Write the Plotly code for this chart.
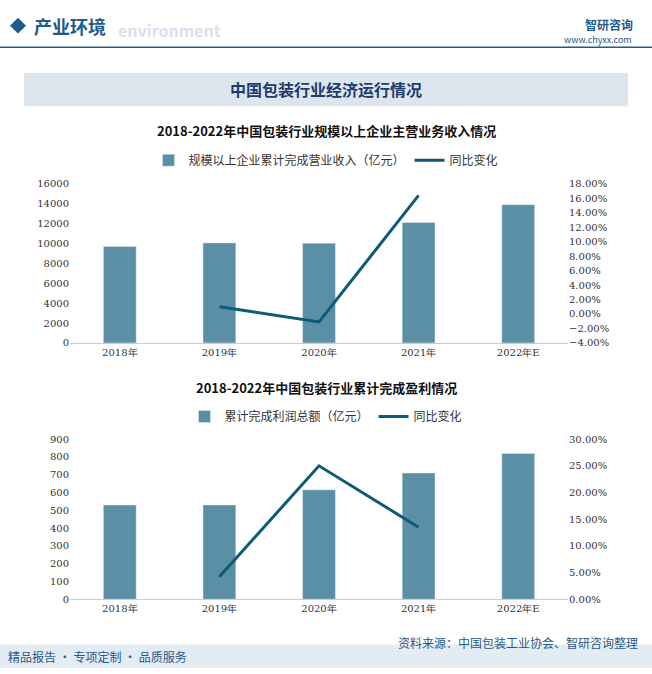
import plotly.graph_objects as go

years = ["2018年", "2019年", "2020年", "2021年", "2022年E"]
revenue = [9700, 10050, 10030, 12100, 13900]
rev_growth = [None, 1.0, -1.1, 16.4, None]
profit = [530, 530, 615, 710, 820]
profit_growth = [None, 4.2, 25.0, 13.5, None]

W, H = 652, 674
def py(p): return 1 - p / H
def px(p): return p / W

BAR = "#5b8fa6"
LINE = "#0d5a79"
FONT = "Noto Sans CJK SC"

fig = go.Figure()
fig.add_bar(x=years, y=revenue, name="规模以上企业累计完成营业收入（亿元）", marker_color=BAR,
            width=0.33, xaxis="x", yaxis="y", legend="legend")
fig.add_scatter(x=years, y=rev_growth, name="同比变化", mode="lines", line=dict(color=LINE, width=3),
                xaxis="x", yaxis="y2", legend="legend")
fig.add_bar(x=years, y=profit, name="累计完成利润总额（亿元）", marker_color=BAR,
            width=0.33, xaxis="x2", yaxis="y3", legend="legend2")
fig.add_scatter(x=years, y=profit_growth, name="同比变化", mode="lines", line=dict(color=LINE, width=3),
                xaxis="x2", yaxis="y4", legend="legend2")

tick = dict(size=10, color="#333", family="DejaVu Serif")
x0, x1 = px(70), px(568)
fig.update_layout(
    width=W, height=H, margin=dict(l=0, r=0, t=0, b=0),
    paper_bgcolor="white", plot_bgcolor="white", font=dict(family=FONT),
    xaxis=dict(domain=[x0, x1], anchor="y", tickfont=tick, showline=True, linecolor="#ccc", ticks=""),
    yaxis=dict(domain=[py(343), py(181)], range=[0, 16000], dtick=2000, tickformat="d", tickfont=tick, showgrid=False, zeroline=False),
    yaxis2=dict(overlaying="y", side="right", range=[-4, 18], dtick=2, tickformat=".2f", ticksuffix="%",
                tickfont=tick, showgrid=False, zeroline=False, anchor="x"),
    xaxis2=dict(domain=[x0, x1], anchor="y3", tickfont=tick, showline=True, linecolor="#ccc", ticks=""),
    yaxis3=dict(domain=[py(604), py(441)], range=[0, 900], dtick=100, tickfont=tick, showgrid=False, zeroline=False),
    yaxis4=dict(overlaying="y3", side="right", range=[0, 30], dtick=5, tickformat=".2f", ticksuffix="%",
                tickfont=tick, showgrid=False, zeroline=False, anchor="x2"),
    legend=dict(orientation="h", x=0.5, xanchor="center", y=py(157), yanchor="middle",
                font=dict(size=12, color="#333"), bgcolor="rgba(0,0,0,0)"),
    legend2=dict(orientation="h", x=0.5, xanchor="center", y=py(418), yanchor="middle",
                 font=dict(size=12, color="#333"), bgcolor="rgba(0,0,0,0)"),
    showlegend=True,
)

shapes = [
    dict(type="line", xref="paper", yref="paper", x0=0, x1=1, y0=py(42), y1=py(42), line=dict(color="#1e5a8a", width=1.5)),
    dict(type="rect", xref="paper", yref="paper", x0=px(24), x1=px(628), y0=py(102), y1=py(68), fillcolor="#dde6ef", line=dict(width=0)),
    dict(type="rect", xref="paper", yref="paper", x0=0, x1=1, y0=0, y1=py(650), fillcolor="#e3ebf3", line=dict(width=0)),
    dict(type="path", xref="paper", yref="paper",
         path=f"M {px(10)} {py(20)} L {px(18)} {py(12)} L {px(26)} {py(20)} L {px(18)} {py(28)} Z",
         fillcolor="#1e5a8a", line=dict(width=0)),
]
fig.update_layout(shapes=shapes)

ann = [
    dict(text="<b>产业环境</b>", x=px(32), y=py(20), xanchor="left", font=dict(size=18, color="#1e5a8a")),
    dict(text="<b>environment</b>", x=px(116), y=py(24), xanchor="left", font=dict(size=16, color="#d7e2ee")),
    dict(text="<b>智研咨询</b>", x=px(583), y=py(19), xanchor="left", font=dict(size=12, color="#1e5a8a")),
    dict(text="www.chyxx.com", x=px(562), y=py(34), xanchor="left", font=dict(size=9, color="#1e5a8a")),
    dict(text="<b>中国包装行业经济运行情况</b>", x=0.5, y=py(85), font=dict(size=16, color="#1e3c6e")),
    dict(text="<b>2018-2022年中国包装行业规模以上企业主营业务收入情况</b>", x=0.5, y=py(127), font=dict(size=13, color="#111")),
    dict(text="<b>2018-2022年中国包装行业累计完成盈利情况</b>", x=0.5, y=py(388), font=dict(size=13, color="#111")),
    dict(text="资料来源：中国包装工业协会、智研咨询整理", x=px(640), y=py(648), xanchor="right", font=dict(size=12, color="#1e5a8a")),
    dict(text="精品报告 · 专项定制 · 品质服务", x=px(6), y=py(662), xanchor="left", font=dict(size=12, color="#1e5a8a")),
]
for a in ann:
    a.update(xref="paper", yref="paper", showarrow=False, yanchor="middle")
fig.update_layout(annotations=ann)

fig.write_html("out.html", config={"displayModeBar": False})
with open("out.html", encoding="utf-8") as f:
    html = f.read()
html = html.replace("<body>", '<body style="margin:0;overflow:hidden">', 1)
with open("out.html", "w", encoding="utf-8") as f:
    f.write(html)
